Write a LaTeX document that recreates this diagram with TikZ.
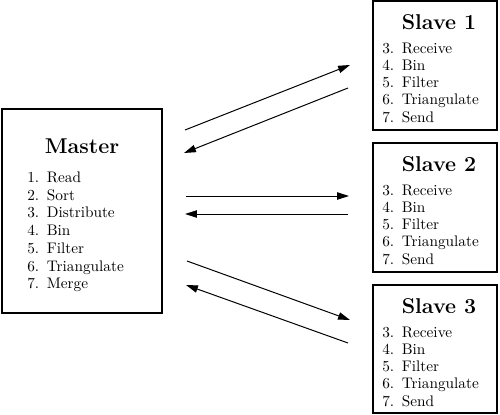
\documentclass[tikz,border=0pt]{standalone}
\usetikzlibrary{arrows.meta,fit}
\begin{document}
\begin{tikzpicture}[x=0.6536pt,y=-0.6536pt,
  box/.style={draw,line width=0.85pt,inner sep=0pt},
  ttl/.style={font=\fontsize{14}{16}\selectfont\bfseries,anchor=base,inner sep=0pt},
  itm/.style={font=\fontsize{10}{12}\selectfont,anchor=base west,inner sep=0pt},
  msg/.style={line width=0.65pt,-{Triangle[length=7.8pt,width=4.8pt]}}]
\useasboundingbox (0,0) rectangle (500,415);
% boxes
\coordinate (m1) at (2,109); \coordinate (m2) at (162,313);
\node[box,fit=(m1)(m2)] (master) {};
\coordinate (a1) at (373,1); \coordinate (a2) at (497,130);
\node[box,fit=(a1)(a2)] (s1) {};
\coordinate (b1) at (373,143); \coordinate (b2) at (497,272);
\node[box,fit=(b1)(b2)] (s2) {};
\coordinate (c1) at (373,285); \coordinate (c2) at (497,413);
\node[box,fit=(c1)(c2)] (s3) {};
% master text
\node[ttl] (mt) at (82,153) {Master};
\node[itm] (mi1) at (27,182.5) {1.\hspace{0.5em}Read};
\node[itm] (mi2) at (27,200.2) {2.\hspace{0.5em}Sort};
\node[itm] (mi3) at (27,217.9) {3.\hspace{0.5em}Distribute};
\node[itm] (mi4) at (27,235.6) {4.\hspace{0.5em}Bin};
\node[itm] (mi5) at (27,253.3) {5.\hspace{0.5em}Filter};
\node[itm] (mi6) at (27,271.0) {6.\hspace{0.5em}Triangulate};
\node[itm] (mi7) at (27,288.7) {7.\hspace{0.5em}Merge};
% slave texts
\foreach \n/\t/\top in {1/s1t/1,2/s2t/143,3/s3t/285}{
  \node[ttl] (\t) at (439,\top+28.5) {Slave \n};
  \node[itm] (\t3) at (382,\top+52) {3.\hspace{0.5em}Receive};
  \node[itm] (\t4) at (382,\top+69.25) {4.\hspace{0.5em}Bin};
  \node[itm] (\t5) at (382,\top+86.5) {5.\hspace{0.5em}Filter};
  \node[itm] (\t6) at (382,\top+103.75) {6.\hspace{0.5em}Triangulate};
  \node[itm] (\t7) at (382,\top+121) {7.\hspace{0.5em}Send};
}
% arrows
\coordinate (p1) at (185,130); \coordinate (q1) at (350,65);
\coordinate (p2) at (348,88);  \coordinate (q2) at (184,153);
\coordinate (p3) at (186,196); \coordinate (q3) at (349,196);
\coordinate (p4) at (348,214); \coordinate (q4) at (185,214);
\coordinate (p5) at (187,261); \coordinate (q5) at (350,320);
\coordinate (p6) at (348,343); \coordinate (q6) at (186,285);
\draw[msg] (p1) -- (q1);
\draw[msg] (p2) -- (q2);
\draw[msg] (p3) -- (q3);
\draw[msg] (p4) -- (q4);
\draw[msg] (p5) -- (q5);
\draw[msg] (p6) -- (q6);
\end{tikzpicture}
\end{document}
